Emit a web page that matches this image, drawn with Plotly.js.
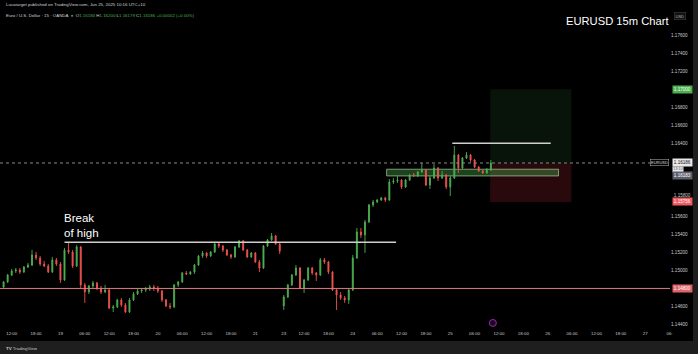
<!DOCTYPE html>
<html>
<head>
<meta charset="utf-8">
<script src="https://cdn.plot.ly/plotly-3.0.1.min.js"></script>
<style>html,body{margin:0;padding:0;background:#000;}#chart{width:698px;height:354px;}</style>
</head>
<body>
<div id="chart"></div>
<script>
// ---- Data: hourly OHLC (Jun 18 10:00 -> Jun 25 10:00, UTC+10) ----
const openP = [
1.14816,1.14872,1.14949,1.14993,1.15004,1.14982,1.15037,1.15059,1.15170,1.15137,
1.15070,1.15048,1.14982,1.15115,1.15070,1.14894,1.15225,1.15203,1.15048,1.15258,
1.14839,1.14761,1.14827,1.14861,1.14805,1.14761,1.14783,1.14584,1.14596,1.14673,
1.14618,1.14540,1.14673,1.14739,1.14772,1.14783,1.14794,1.14816,1.14805,1.14772,
1.14673,1.14607,1.14596,1.14839,1.14872,1.14971,1.14960,1.14982,1.15059,1.15159,
1.15192,1.15159,1.15203,1.15291,1.15269,1.15225,1.15170,1.15148,1.15258,1.15325,
1.15225,1.15148,1.15192,1.15093,1.15026,1.15269,1.15336,1.15380,1.15291,
1.14607,1.14706,1.14839,1.14949,1.15026,1.14805,1.14894,1.15026,1.14971,1.14949,
1.15115,1.15093,1.14982,1.14783,1.14728,1.14695,1.14673,1.14783,1.15137,1.15424,
1.15391,1.15534,1.15722,1.15755,1.15777,1.15800,1.15777,1.15976,1.15987,1.15998,
1.15921,1.15998,1.16054,1.16043,1.16087,1.16109,1.15943,1.16020,1.16131,1.16020,
1.16054,1.15921,1.16020,1.16274,1.16131,1.16241,1.16274,1.16219,1.16142,1.16098,1.16076,1.16109];
const highP = [
1.14883,1.14960,1.15015,1.15026,1.15026,1.15048,1.15082,1.15225,1.15203,1.15159,
1.15104,1.15070,1.15148,1.15137,1.15093,1.15247,1.15302,1.15225,1.15280,1.15269,
1.14861,1.14839,1.14883,1.14872,1.14827,1.14839,1.14794,1.14618,1.14684,1.14695,
1.14640,1.14695,1.14761,1.14794,1.14805,1.14816,1.14839,1.14839,1.14827,1.14783,
1.14684,1.14640,1.14850,1.14883,1.14982,1.14993,1.14993,1.15070,1.15170,1.15214,
1.15203,1.15214,1.15302,1.15302,1.15280,1.15236,1.15181,1.15269,1.15336,1.15336,
1.15236,1.15203,1.15203,1.15115,1.15280,1.15347,1.15413,1.15391,1.15302,
1.14728,1.14850,1.14960,1.15059,1.15037,1.14905,1.15037,1.15037,1.14982,1.15137,
1.15137,1.15104,1.14993,1.14794,1.14761,1.14717,1.14805,1.15170,1.15468,1.15468,
1.15557,1.15733,1.15777,1.15788,1.15811,1.15811,1.16009,1.16020,1.16043,1.16009,
1.16009,1.16065,1.16076,1.16098,1.16186,1.16120,1.16043,1.16175,1.16142,1.16098,
1.16065,1.16043,1.16374,1.16286,1.16252,1.16308,1.16286,1.16230,1.16153,1.16109,1.16131,1.16219];
const lowP = [
1.14805,1.14861,1.14938,1.14971,1.14960,1.14971,1.15026,1.15048,1.15115,1.15048,
1.15037,1.14971,1.14971,1.15048,1.14861,1.14883,1.15181,1.15026,1.15037,1.14805,
1.14640,1.14739,1.14805,1.14783,1.14739,1.14750,1.14573,1.14540,1.14584,1.14596,
1.14529,1.14529,1.14662,1.14728,1.14750,1.14761,1.14772,1.14772,1.14750,1.14651,
1.14596,1.14573,1.14584,1.14816,1.14861,1.14949,1.14949,1.14960,1.15048,1.15137,
1.15137,1.15148,1.15192,1.15247,1.15203,1.15159,1.15126,1.15137,1.15247,1.15214,
1.15137,1.15137,1.15082,1.14982,1.15015,1.15258,1.15325,1.15280,1.15181,
1.14562,1.14695,1.14827,1.14938,1.14794,1.14750,1.14883,1.14949,1.14883,1.14938,
1.15070,1.14960,1.14772,1.14562,1.14673,1.14640,1.14629,1.14772,1.15126,1.15358,
1.15192,1.15523,1.15700,1.15744,1.15766,1.15755,1.15766,1.15954,1.15965,1.15899,
1.15910,1.15987,1.16032,1.16032,1.16076,1.15932,1.15899,1.16009,1.15987,1.16009,
1.15899,1.15822,1.16009,1.16076,1.16120,1.16230,1.16197,1.16131,1.16087,1.16065,1.16065,1.16098];
const closeP = [
1.14872,1.14949,1.14993,1.15004,1.14982,1.15037,1.15059,1.15170,1.15137,1.15070,
1.15048,1.14982,1.15115,1.15070,1.14894,1.15225,1.15203,1.15048,1.15258,1.14839,
1.14761,1.14827,1.14861,1.14805,1.14761,1.14783,1.14584,1.14596,1.14673,1.14618,
1.14540,1.14673,1.14739,1.14772,1.14783,1.14794,1.14816,1.14805,1.14772,1.14673,
1.14607,1.14596,1.14839,1.14872,1.14971,1.14960,1.14982,1.15059,1.15159,1.15192,
1.15159,1.15203,1.15291,1.15269,1.15225,1.15170,1.15148,1.15258,1.15325,1.15225,
1.15148,1.15192,1.15093,1.15026,1.15269,1.15336,1.15380,1.15291,1.15214,
1.14706,1.14839,1.14949,1.15026,1.14805,1.14894,1.15026,1.14971,1.14949,1.15115,
1.15093,1.14982,1.14783,1.14728,1.14695,1.14673,1.14783,1.15137,1.15424,1.15391,
1.15534,1.15722,1.15755,1.15777,1.15800,1.15777,1.15976,1.15987,1.15998,1.15921,
1.15998,1.16054,1.16043,1.16087,1.16109,1.15943,1.16020,1.16131,1.16020,1.16054,
1.15921,1.16020,1.16274,1.16131,1.16241,1.16274,1.16219,1.16142,1.16098,1.16076,1.16109,1.16186];

const firstBar = '2025-06-18T10:00:00Z';
const weekendGap = ['2025-06-21 07:00', '2025-06-23 07:00'];

const tickTimes = ['2025-06-18 12:00','2025-06-18 18:00','2025-06-19 00:00','2025-06-19 06:00','2025-06-19 12:00','2025-06-19 18:00',
 '2025-06-20 00:00','2025-06-20 06:00','2025-06-20 12:00','2025-06-20 18:00','2025-06-21 00:00','2025-06-23 07:00','2025-06-23 12:00',
 '2025-06-23 18:00','2025-06-24 00:00','2025-06-24 06:00','2025-06-24 12:00','2025-06-24 18:00','2025-06-25 00:00','2025-06-25 06:00',
 '2025-06-25 12:00','2025-06-25 18:00','2025-06-26 00:00','2025-06-26 06:00','2025-06-26 12:00','2025-06-26 18:00','2025-06-27 00:00','2025-06-27 06:00'];
const tickLabels = ['12:00','18:00','19','06:00','12:00','18:00','20','06:00','12:00','18:00','21','23','12:00',
 '18:00','24','06:00','12:00','18:00','25','06:00','12:00','18:00','26','06:00','12:00','18:00','27','06:'];
const priceTicks = [1.144,1.146,1.150,1.152,1.154,1.156,1.164,1.166,1.168,1.172,1.174,1.176];
const crowdedTick = 1.158;          // drawn as a label nudged up, next to the stop label
const crowdedTickPos = 1.15828;

// Levels / drawings
const supportLevel = 1.14800;
const breakLevel = 1.15310;
const breakStart = '2025-06-19 01:00', breakEnd = '2025-06-24 10:40';
const highLevel = 1.16404;
const highStart = '2025-06-25 00:30', highEnd = '2025-06-26 00:45';
const zoneTop = 1.16117, zoneBottom = 1.16043;
const zoneStart = '2025-06-24 08:20', zoneEnd = '2025-06-26 02:40';
const entryPrice = 1.16183, targetPrice = 1.17000, stopPrice = 1.15756;
const posStart = '2025-06-25 09:50', posEnd = '2025-06-26 05:50';
const lastPrice = 1.16186;
const entryLabelPos = 1.16046;

// ---- build bar times (hourly, skipping the weekend) ----
const gapS = Date.parse(weekendGap[0].replace(' ','T')+':00Z');
const gapE = Date.parse(weekendGap[1].replace(' ','T')+':00Z');
const times = [];
let tms = Date.parse(firstBar);
for (let i = 0; i < closeP.length; i++) {
  if (tms >= gapS && tms < gapE) tms = gapE;
  times.push(new Date(tms).toISOString().slice(0,16).replace('T',' '));
  tms += 3600000;
}

const trace = {
  type: 'candlestick', x: times, open: openP, high: highP, low: lowP, close: closeP,
  increasing: {line: {color: '#4caf50', width: 0.9}, fillcolor: '#4caf50'},
  decreasing: {line: {color: '#ef5350', width: 0.9}, fillcolor: '#ef5350'},
  whiskerwidth: 0, hoverinfo: 'skip', showlegend: false
};

// paper helpers (plot area: x 0..670 px, y 12..330 px)
const PW = 670, PT = 12, PB = 330;
const px = v => v / PW;
const py = v => (PB - v) / (PB - PT);

const FONT = 'Liberation Sans, Arial, sans-serif';
const shapes = [
  {type:'rect', xref:'x', yref:'y', x0:posStart, x1:posEnd, y0:entryPrice, y1:targetPrice, fillcolor:'rgba(76,175,80,0.11)', line:{width:0}, layer:'below'},
  {type:'rect', xref:'x', yref:'y', x0:posStart, x1:posEnd, y0:stopPrice, y1:entryPrice, fillcolor:'rgba(242,54,69,0.17)', line:{width:0}, layer:'below'},
  {type:'rect', xref:'x', yref:'y', x0:zoneStart, x1:zoneEnd, y0:zoneBottom, y1:zoneTop, fillcolor:'rgba(76,175,80,0.38)', line:{color:'rgba(170,205,160,0.7)', width:1}, layer:'between'},
  {type:'line', xref:'paper', yref:'y', x0:0, x1:1, y0:supportLevel, y1:supportLevel, line:{color:'#e07a80', width:1}},
  {type:'line', xref:'paper', yref:'y', x0:0, x1:1, y0:lastPrice, y1:lastPrice, line:{color:'#8a8a8a', width:1, dash:'dot'}},
  {type:'line', xref:'x', yref:'y', x0:breakStart, x1:breakEnd, y0:breakLevel, y1:breakLevel, line:{color:'#cfcfcf', width:1.5}},
  {type:'line', xref:'x', yref:'y', x0:highStart, x1:highEnd, y0:highLevel, y1:highLevel, line:{color:'#cfcfcf', width:1.5}},
  {type:'circle', xref:'x', yref:'y', xsizemode:'pixel', ysizemode:'pixel', xanchor:'2025-06-25 10:30', yanchor:1.14419,
   x0:-3.5, x1:3.5, y0:-3.5, y1:3.5, line:{color:'#9c27b0', width:1}, fillcolor:'#1a0a20'},
  {type:'rect', xref:'paper', yref:'paper', x0:px(-5), x1:px(710), y0:py(0), y1:py(-5), fillcolor:'#1e1e1e', line:{width:0}},
  {type:'rect', xref:'paper', yref:'paper', x0:px(-5), x1:px(710), y0:py(360), y1:py(341), fillcolor:'#1e1e1e', line:{width:0}},
  {type:'rect', xref:'paper', yref:'paper', x0:px(693), x1:px(710), y0:py(360), y1:py(-5), fillcolor:'#1e1e1e', line:{width:0}}
];

function axisLabel(y, text, bg, color) {
  return {xref:'paper', yref:'y', x:1, y:y, xanchor:'left', yanchor:'middle', xshift:2, text:text, showarrow:false,
    bgcolor:bg, font:{family:FONT, size:4.6, color:color}, borderpad:0.8};
}
const annotations = [
  {xref:'paper', yref:'paper', x:px(4), y:py(4.5), xanchor:'left', yanchor:'middle', showarrow:false,
   text:'Lucatarget published on TradingView.com, Jun 25, 2025 10:16 UTC+10', font:{family:FONT, size:4.4, color:'#d1d4dc'}},
  {xref:'paper', yref:'paper', x:px(4), y:py(15.5), xanchor:'left', yanchor:'middle', showarrow:false,
   text:'Euro / U.S. Dollar · 15 · OANDA  <span style="color:#4caf50">●</span>  O<span style="color:#4caf50">1.16184</span> H<span style="color:#4caf50">1.16200</span> L<span style="color:#4caf50">1.16179</span> C<span style="color:#4caf50">1.16186 +0.00002 (+0.00%)</span>',
   font:{family:FONT, size:4.4, color:'#d1d4dc'}},
  {xref:'paper', yref:'paper', x:px(564), y:py(21), xanchor:'left', yanchor:'middle', showarrow:false,
   text:'EURUSD 15m Chart', font:{family:FONT, size:11.2, color:'#ffffff'}},
  {xref:'x', yref:'y', x:breakStart, y:breakLevel, xanchor:'left', yanchor:'bottom', xshift:-3, yshift:1, showarrow:false, align:'left',
   text:'Break<br>of high', font:{family:FONT, size:11.5, color:'#ffffff'}},
  {xref:'paper', yref:'paper', x:px(4), y:py(348), xanchor:'left', yanchor:'middle', showarrow:false,
   text:'<b>TV</b> TradingView', font:{family:FONT, size:4.4, color:'#c8c8c8'}},
  {xref:'paper', yref:'paper', x:1, y:py(16), xanchor:'left', yanchor:'middle', xshift:4, showarrow:false,
   text:'USD', font:{family:FONT, size:4, color:'#b2b5be'}, bgcolor:'#121212', bordercolor:'#444', borderwidth:0.5, borderpad:1},
  axisLabel(crowdedTickPos, crowdedTick.toFixed(5), 'rgba(0,0,0,0)', '#c8cad0'),
  axisLabel(targetPrice, '1.17000', '#4caf50', '#ffffff'),
  axisLabel(lastPrice, '1.16186', '#e8e8e8', '#111111'),
  {xref:'paper', yref:'y', x:1, y:lastPrice, xanchor:'left', yanchor:'top', xshift:2, yshift:-3.4, text:'13:10', showarrow:false,
   bgcolor:'#e8e8e8', font:{family:FONT, size:3.8, color:'#555'}, borderpad:0.3},
  {xref:'paper', yref:'y', x:1, y:lastPrice, xanchor:'right', yanchor:'middle', xshift:-1, text:'EURUSD', showarrow:false,
   bgcolor:'#000', bordercolor:'#bbb', borderwidth:0.5, font:{family:FONT, size:4, color:'#ddd'}, borderpad:0.5},
  axisLabel(entryLabelPos, '1.16183', '#5d606b', '#ffffff'),
  axisLabel(stopPrice, '1.15756', '#f05a63', '#ffffff'),
  axisLabel(supportLevel, '1.14800', '#e0646a', '#ffffff')
];

const layout = {
  width: 698, height: 354,
  margin: {l: 0, r: 698 - PW, t: PT, b: 354 - PB, pad: 0},
  paper_bgcolor: '#000000', plot_bgcolor: '#000000',
  showlegend: false,
  boxgap: 0.65,
  xaxis: {
    type: 'date', range: ['2025-06-18 09:07', '2025-06-27 06:07'],
    rangebreaks: [{bounds: weekendGap}],
    rangeslider: {visible: false},
    tickmode: 'array', tickvals: tickTimes, ticktext: tickLabels,
    tickfont: {family: FONT, size: 4.4, color: '#c8cad0'},
    showgrid: false, zeroline: false, showline: false, ticks: '', fixedrange: true
  },
  yaxis: {
    side: 'right', range: [1.14341, 1.17854],
    tickmode: 'array', tickvals: priceTicks, tickformat: '.5f',
    tickfont: {family: FONT, size: 4.6, color: '#c8cad0'},
    showgrid: false, zeroline: false, showline: false, ticks: '', fixedrange: true
  },
  shapes: shapes,
  annotations: annotations
};

Plotly.newPlot('chart', [trace], layout, {staticPlot: true, displayModeBar: false});
</script>
</body>
</html>
